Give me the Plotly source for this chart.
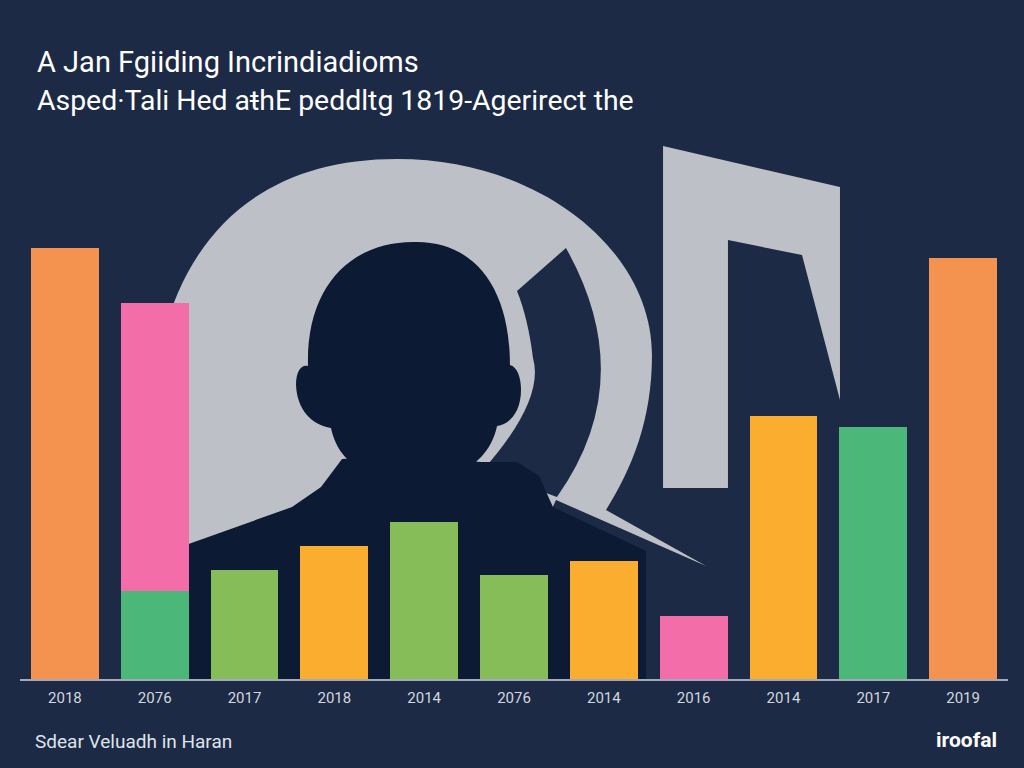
import plotly.graph_objects as go

# ---- data ----
tick_labels = ["2018", "2076", "2017", "2018", "2014", "2076", "2014", "2016", "2014", "2017", "2019"]
base_values = [100, 20.4, 25.3, 30.9, 36.4, 24.1, 27.4, 14.6, 61.0, 58.5, 97.7]
top_values = [0, 66.8, 0, 0, 0, 0, 0, 0, 0, 0, 0]
base_colors = ["#F4924F", "#4BB87A", "#86BD58", "#FBAD2F", "#86BD58", "#86BD58",
               "#FBAD2F", "#F36DA8", "#FBAD2F", "#4BB87A", "#F4924F"]
top_color = "#F36DA8"

title_1 = "A Jan Fgiiding Incrindiadioms"
title_2 = "Asped\u00b7Tali Hed a\u0167hE peddltg 1819-Agerirect the"
footer_left = "Sdear Veluadh in Haran"
footer_right = "iroofal"

BG = "#1c2a46"
DARK = "#0d1a33"
GREY = "#bdc0c6"
W, H = 1024, 768
FONT = "Roboto, Arial, sans-serif"

def P(pts):
    """pixel points -> paper path"""
    out = []
    for i, (x, y) in enumerate(pts):
        out.append(("M" if i == 0 else "L") + f"{x / W:.4f},{1 - y / H:.4f}")
    return " ".join(out) + " Z"

def C(cmds):
    out = []
    for c in cmds:
        op, *pts = c
        s = op + " ".join(f"{x / W:.4f},{1 - y / H:.4f}" for x, y in pts)
        out.append(s)
    return " ".join(out) + " Z"

x_idx = list(range(len(tick_labels)))

fig = go.Figure()
fig.add_trace(go.Bar(x=x_idx, y=base_values, marker=dict(color=base_colors, line=dict(width=0)),
                     hoverinfo="skip"))
fig.add_trace(go.Bar(x=x_idx, y=top_values, marker=dict(color=top_color, line=dict(width=0)),
                     hoverinfo="skip"))

shapes = []
# big grey ring / disc with spike
shapes.append(dict(type="path", xref="paper", yref="paper",
                   path=C([("M", (397, 159)), ("C", (540, 159), (652, 250), (652, 355)),
                           ("C", (652, 420), (632, 468), (606, 510)),
                           ("L", (706, 566)), ("L", (556, 500)),
                           ("L", (500, 620)), ("L", (180, 620)), ("L", (150, 450)),
                           ("C", (150, 260), (240, 159), (397, 159))]),
                   fillcolor=GREY, line=dict(width=0), layer="below"))
# grey "7" shape
shapes.append(dict(type="path", xref="paper", yref="paper",
                   path=P([(663, 146), (840, 187), (840, 400), (802, 255), (728, 240),
                           (728, 488), (663, 488)]),
                   fillcolor=GREY, line=dict(width=0), layer="below"))
# crescent cut-out
shapes.append(dict(type="path", xref="paper", yref="paper",
                   path=C([("M", (517, 291)), ("L", (566, 248)), ("Q", (640, 380), (557, 497)),
                           ("L", (483, 470)), ("Q", (545, 400), (533, 358)),
                           ("Q", (528, 318), (517, 291))]),
                   fillcolor=BG, line=dict(width=0), layer="below"))
# head
shapes.append(dict(type="path", xref="paper", yref="paper",
                   path=C([("M", (413, 242)), ("C", (472, 240), (510, 285), (510, 365)),
                           ("C", (522, 368), (524, 395), (517, 410)),
                           ("C", (512, 420), (505, 425), (497, 426)),
                           ("C", (492, 450), (475, 468), (455, 472)),
                           ("L", (372, 472)),
                           ("C", (348, 466), (336, 450), (331, 428)),
                           ("C", (312, 425), (297, 410), (296, 385)),
                           ("C", (296, 370), (302, 364), (308, 366)),
                           ("C", (306, 285), (352, 242), (413, 242))]),
                   fillcolor=DARK, line=dict(width=0), layer="below"))
# body
shapes.append(dict(type="path", xref="paper", yref="paper",
                   path=P([(183, 546), (292, 507), (321, 487), (342, 459), (400, 455),
                           (481, 462), (517, 462), (539, 476), (553, 507), (646, 551),
                           (646, 679), (183, 679)]),
                   fillcolor=DARK, line=dict(width=0), layer="below"))

annotations = [
    dict(text=title_1, x=35 / W, y=1 - 62 / H, xref="paper", yref="paper", xanchor="left",
         yanchor="middle", showarrow=False, font=dict(family=FONT, size=29, color="#ffffff")),
    dict(text=title_2, x=35 / W, y=1 - 100 / H, xref="paper", yref="paper", xanchor="left",
         yanchor="middle", showarrow=False, font=dict(family=FONT, size=28.4, color="#ffffff")),
    dict(text=footer_left, x=33 / W, y=1 - 741 / H, xref="paper", yref="paper", xanchor="left",
         yanchor="middle", showarrow=False, font=dict(family=FONT, size=19, color="#dfe3ea")),
    dict(text="<b>" + footer_right + "</b>", x=999 / W, y=1 - 740 / H, xref="paper", yref="paper",
         xanchor="right", yanchor="middle", showarrow=False,
         font=dict(family=FONT, size=21, color="#ffffff")),
]

fig.update_layout(
    width=W, height=H,
    margin=dict(l=0, r=0, t=0, b=0),
    paper_bgcolor=BG, plot_bgcolor="rgba(0,0,0,0)",
    barmode="stack", bargap=0.245, showlegend=False,
    shapes=shapes, annotations=annotations,
    xaxis=dict(domain=[20 / W, 1008 / W], range=[-0.5, 10.5],
               tickmode="array", tickvals=x_idx, ticktext=tick_labels,
               showgrid=False, zeroline=False, showline=True, linecolor="#a3abba", linewidth=2,
               ticks="", ticklabelstandoff=4,
               tickfont=dict(family=FONT, size=15, color="#d3d7de"), automargin=False,
               fixedrange=True),
    yaxis=dict(domain=[1 - 679 / H, 1 - 140 / H], range=[0, 125], visible=False,
               showgrid=False, zeroline=False, automargin=False, fixedrange=True),
)

fig.write_html("out.html", config={"displayModeBar": False},
               post_script="document.body.style.margin='0';document.body.style.background='%s';" % BG)
